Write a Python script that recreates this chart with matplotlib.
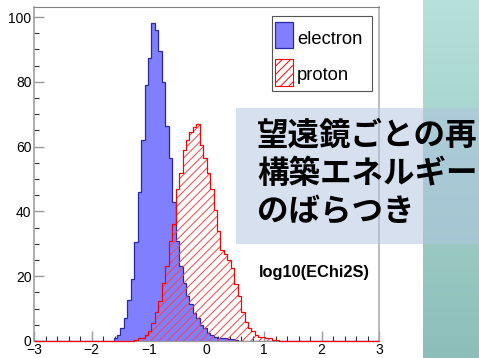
import numpy as np
import matplotlib
matplotlib.use("Agg")
import matplotlib.pyplot as plt
from matplotlib.patches import Rectangle

plt.rcParams['font.family'] = ['Liberation Sans', 'DejaVu Sans']
plt.rcParams['hatch.linewidth'] = 0.7

W, H = 479, 358

# Histogram binning: 100 bins over log10(EChi2S) in [-3, 3]
x_min, x_max, n_bins = -3.0, 3.0, 100

# Electron counts, starting at bin index 23
electron_first_bin = 23
electron_counts = [1, 2, 4, 7, 12.7, 19, 30.5, 46, 62, 79, 87.5, 98, 96, 89.5,
                   80, 66.5, 56.5, 43, 31, 23, 18, 14, 11.5, 8.5, 7, 5, 4, 2.5,
                   2, 1.3, 1, 0.8, 0.8, 0.5, 0.5, 0.3]

# Proton counts, starting at bin index 29
proton_first_bin = 29
proton_counts = [0.3, 0.8, 1, 2, 3, 5.5, 9, 12.5, 18, 23, 31, 36, 47, 52, 59,
                 62, 64.5, 66, 67, 60.5, 56.5, 52, 47, 40.5, 34, 28, 27, 25,
                 22.5, 17.5, 14, 9, 6, 4, 3, 2, 1.3, 1.3, 0.8, 0.8, 0.4, 0.4]

legend_labels = ["electron", "proton"]
variable_label = "log10(EChi2S)"
overlay_lines = ["望遠鏡ごとの再", "構築エネルギー", "のばらつき"]

x_ticks = [-3, -2, -1, 0, 1, 2, 3]
y_ticks = [0, 20, 40, 60, 80, 100]
y_max = 103


def full_counts(first, counts):
    arr = np.zeros(n_bins)
    arr[first:first + len(counts)] = counts
    return arr


edges = np.linspace(x_min, x_max, n_bins + 1)
electron = full_counts(electron_first_bin, electron_counts)
proton = full_counts(proton_first_bin, proton_counts)


def fx(px):
    return px / W


def fy(py):
    return 1 - py / H


fig = plt.figure(figsize=(W / 100, H / 100), dpi=100)
fig.patch.set_facecolor('white')

# teal gradient strip along the right edge
strip = fig.add_axes([fx(423), 0, fx(W - 423), 1], zorder=-1)
top_c = np.array([182, 225, 218]) / 255
bot_c = np.array([141, 190, 185]) / 255
t = np.linspace(0, 1, 256)[:, None]
grad = top_c[None, :] * (1 - t) + bot_c[None, :] * t
strip.imshow(grad[:, None, :], aspect='auto', extent=[0, 1, 0, 1])
strip.set_axis_off()

ax = fig.add_axes([fx(34.3), fy(341), fx(379 - 34.3), (341 - 7.3) / H])

blue_fill = '#7f7fff'
blue_line = '#2828a8'
red = '#ff0000'

ax.stairs(electron, edges, fill=True, facecolor=blue_fill, edgecolor='none', zorder=2)
ax.stairs(electron, edges, color=blue_line, linewidth=0.9, zorder=3)
ax.stairs(proton, edges, fill=True, facecolor='none', edgecolor='#ff4040',
          hatch='////', linewidth=0, zorder=4)
ax.stairs(proton, edges, color=red, linewidth=0.9, zorder=5, clip_on=False)

ax.set_xlim(x_min, x_max)
ax.set_ylim(0, y_max)
ax.set_xticks(x_ticks)
ax.set_yticks(y_ticks)
ax.set_xticks(np.arange(-3, 3.001, 0.2), minor=True)
ax.set_yticks(np.arange(0, 101, 5), minor=True)
ax.tick_params(which='major', direction='in', length=7.5, width=1.0,
               color='#999999', labelsize=10, pad=2, labelcolor='black')
ax.tick_params(which='minor', direction='in', length=3.8, width=0.8,
               color='#333333')
ax.tick_params(axis='x', pad=1.5)

ax.spines['left'].set_color('#999999')
ax.spines['left'].set_linewidth(1.1)
ax.spines['top'].set_color('#808080')
ax.spines['top'].set_linewidth(0.8)
ax.spines['right'].set_color('#aaaaaa')
ax.spines['right'].set_linewidth(1.1)
ax.spines['bottom'].set_color('#999999')
ax.spines['bottom'].set_linewidth(0.8)

# variable name
fig.text(fx(259), fy(272), variable_label, fontsize=11.8, fontweight='bold',
         ha='left', va='center')

# legend box
fig.add_artist(Rectangle((fx(271.7), fy(91)), fx(100), (91 - 15.7) / H,
                         facecolor='white', edgecolor='#555555', linewidth=0.8,
                         transform=fig.transFigure, zorder=3))
fig.add_artist(Rectangle((fx(275), fy(47.7)), fx(18), 26 / H,
                         facecolor=blue_fill, edgecolor=blue_line, linewidth=0.9,
                         transform=fig.transFigure, zorder=4))
fig.add_artist(Rectangle((fx(275), fy(85.7)), fx(18), 26.4 / H,
                         facecolor='none', edgecolor=red, hatch='////',
                         linewidth=0.8, transform=fig.transFigure, zorder=4))
fig.text(fx(297), fy(43.5), legend_labels[0], fontsize=13.2, ha='left',
         va='baseline', zorder=5)
fig.text(fx(297), fy(80), legend_labels[1], fontsize=13.2, ha='left',
         va='baseline', zorder=5)

# translucent caption panel
fig.add_artist(Rectangle((fx(236), fy(244)), fx(W - 236), (244 - 108) / H,
                         facecolor=(177 / 255, 195 / 255, 225 / 255), alpha=0.5,
                         edgecolor='none', transform=fig.transFigure, zorder=6))
for line, yc in zip(overlay_lines, [136, 174, 212]):
    fig.text(fx(257), fy(yc), line, fontsize=22.7, fontweight='bold',
             family=['Noto Sans CJK JP', 'DejaVu Sans'], ha='left',
             va='center', color='black', zorder=7)

fig.savefig('out.png', dpi=100)
